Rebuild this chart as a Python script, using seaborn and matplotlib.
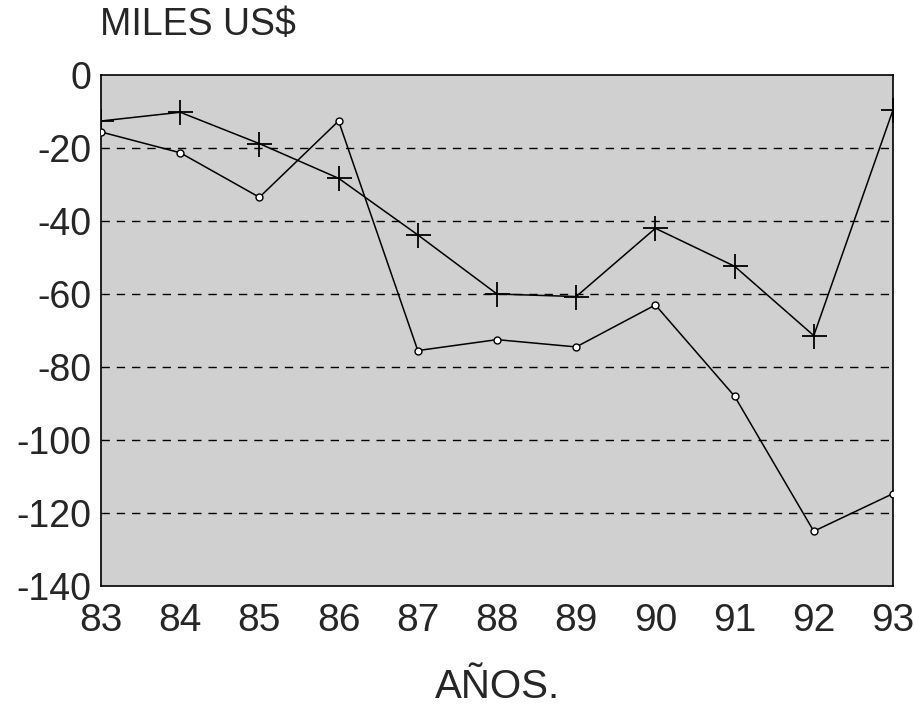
import matplotlib
matplotlib.use("Agg")
import matplotlib.pyplot as plt
import seaborn as sns
import pandas as pd

years = [83, 84, 85, 86, 87, 88, 89, 90, 91, 92, 93]
year_labels = ["83", "84", "85", "86", "87", "88", "89", "90", "91", "92", "93"]
serie_cruz = [-12.6, -10.2, -18.8, -28.3, -43.8, -60.0, -60.7, -42.0, -52.4, -71.4, -9.6]
serie_circulo = [-15.6, -21.3, -33.5, -12.6, -75.5, -72.5, -74.5, -63.0, -88.0, -125.0, -114.7]
y_ticks = [0, -20, -40, -60, -80, -100, -120, -140]

df_a = pd.DataFrame({"year": years, "valor": serie_cruz})
df_b = pd.DataFrame({"year": years, "valor": serie_circulo})

sns.set_style("white")
plt.rcParams["font.family"] = ["Liberation Sans", "DejaVu Sans"]

fig = plt.figure(figsize=(9.14, 7.05), dpi=100)
ax = fig.add_axes([0.1105, 0.1688, 0.8665, 0.7248])
ax.set_facecolor("#d0d0d0")

for yv in y_ticks[1:-1]:
    ax.axhline(yv, color="black", lw=1.0, ls=(0, (6, 5)), zorder=1)

sns.lineplot(data=df_a, x="year", y="valor", ax=ax, color="black", lw=1.1,
             marker="+", markersize=18, markeredgewidth=1.3, markeredgecolor="black",
             zorder=3)
sns.lineplot(data=df_b, x="year", y="valor", ax=ax, color="black", lw=1.1,
             marker="o", markersize=5, markerfacecolor="white", markeredgecolor="black",
             markeredgewidth=1.0, zorder=3)

ax.set_xlim(83, 93)
ax.set_ylim(-140, 0)
ax.set_xticks(years)
ax.set_xticklabels(year_labels)
ax.set_yticks(y_ticks)
ax.set_yticklabels([str(v) for v in y_ticks])
ax.tick_params(axis="x", length=0, labelsize=28, pad=12)
ax.tick_params(axis="y", length=0, labelsize=27, pad=7)
for s in ax.spines.values():
    s.set_visible(True)
    s.set_color("black")
    s.set_linewidth(1.2)
ax.set_xlabel("")
ax.set_ylabel("")

fig.text(0.109, 0.965, "MILES US$", fontsize=27, ha="left", va="center")
fig.text(0.544, 0.026, "AÑOS.", fontsize=29, ha="center", va="center")

fig.savefig("out.png", dpi=100)
